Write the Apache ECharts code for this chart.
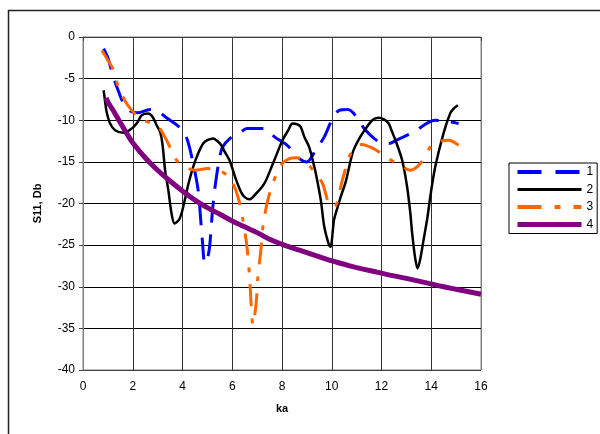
<!DOCTYPE html>
<html>
<head>
<meta charset="utf-8">
<script src="https://cdn.jsdelivr.net/npm/echarts@6/dist/echarts.min.js"></script>
<style>
  html, body { margin: 0; padding: 0; background: #fff; }
  #chart { width: 600px; height: 434px; }
</style>
</head>
<body>
<div id="chart"></div>
<script>
// curve 1 (blue, long dash)
var ka1 = [0.83, 1.0, 1.2, 1.4, 1.6, 1.9, 2.2, 2.7, 3.0, 3.4, 3.7, 4.0, 4.2, 4.4, 4.63, 4.72, 4.8, 4.9, 5.05, 5.14, 5.2, 5.3, 5.45, 5.6, 5.9, 6.3, 6.6, 7.3, 7.7, 8.2, 8.7, 9.0, 9.35, 9.7, 10.0, 10.3, 10.65, 11.1, 11.3, 11.75, 12.1, 12.3, 12.6, 13.3, 14.15, 14.8, 15.1]
var s11_1 = [-1.4, -2.5, -4.6, -6.3, -7.8, -8.9, -9.1, -8.7, -8.9, -9.8, -10.4, -11.2, -12.4, -14.8, -18.4, -21.5, -24.5, -27.2, -26.0, -23.5, -21.0, -18.2, -15.2, -13.3, -12.2, -11.5, -11.0, -11.0, -12.0, -13.0, -14.6, -15.0, -13.6, -12.0, -10.0, -8.8, -8.7, -10.0, -11.0, -12.3, -12.8, -12.8, -12.4, -11.4, -10.0, -10.2, -10.4]

// curve 2 (black, solid)
var ka2 = [0.83, 0.89, 0.95, 1.09, 1.29, 1.62, 1.96, 2.2, 2.36, 2.62, 2.8, 2.96, 3.1, 3.2, 3.3, 3.43, 3.56, 3.68, 3.85, 3.96, 4.09, 4.25, 4.43, 4.6, 4.83, 5.0, 5.23, 5.4, 5.56, 5.7, 5.89, 6.16, 6.35, 6.49, 6.69, 6.96, 7.2, 7.36, 7.5, 7.69, 8.02, 8.25, 8.42, 8.62, 8.75, 8.9, 9.09, 9.25, 9.36, 9.56, 9.7, 9.89, 9.95, 10.09, 10.2, 10.36, 10.56, 10.83, 11.0, 11.23, 11.63, 11.89, 12.1, 12.29, 12.4, 12.56, 12.83, 13.03, 13.16, 13.23, 13.35, 13.45, 13.55, 13.69, 13.85, 13.96, 14.16, 14.49, 14.76, 14.9, 15.07]
var s11_2 = [-6.4, -7.8, -9.0, -10.4, -11.2, -11.5, -11.0, -10.2, -9.4, -9.2, -9.6, -10.6, -11.4, -13.0, -16.0, -18.4, -21.2, -22.4, -22.0, -21.2, -19.6, -17.5, -15.6, -14.2, -12.8, -12.4, -12.2, -12.5, -13.0, -13.8, -14.8, -17.2, -18.6, -19.2, -19.5, -18.8, -18.0, -17.2, -16.2, -14.8, -12.4, -11.2, -10.4, -10.5, -10.8, -12.0, -13.2, -15.0, -16.4, -19.6, -22.8, -25.0, -25.2, -22.0, -20.8, -19.2, -17.4, -14.0, -12.8, -11.6, -10.0, -9.7, -9.9, -10.4, -11.2, -12.4, -14.8, -18.0, -21.2, -23.5, -26.5, -27.8, -26.8, -24.4, -21.6, -19.2, -15.6, -11.6, -9.2, -8.6, -8.2]

// curve 3 (orange, dash-dot)
var ka3 = [0.76, 0.96, 1.23, 1.42, 1.8, 2.29, 2.6, 2.96, 3.36, 3.76, 4.1, 4.5, 5.0, 5.4, 5.7, 5.96, 6.23, 6.43, 6.6, 6.7, 6.75, 6.83, 6.96, 7.03, 7.15, 7.25, 7.43, 7.63, 7.96, 8.3, 8.6, 9.0, 9.25, 9.63, 9.9, 10.1, 10.25, 10.36, 10.5, 10.7, 10.96, 11.23, 11.6, 12.0, 12.2, 12.7, 13.16, 13.56, 13.96, 14.05, 14.7, 15.1]
var s11_3 = [-1.6, -2.6, -4.0, -6.0, -8.2, -9.8, -10.2, -10.5, -12.4, -14.8, -15.6, -16.0, -15.8, -16.0, -16.4, -17.2, -19.2, -22.0, -25.4, -29.0, -31.6, -34.6, -32.0, -28.8, -25.6, -22.4, -19.6, -17.6, -15.4, -14.6, -14.5, -15.2, -16.0, -17.6, -20.2, -20.4, -19.6, -18.0, -16.4, -14.4, -13.2, -12.9, -13.3, -14.0, -14.5, -15.3, -16.0, -15.2, -13.2, -12.8, -12.4, -13.0]

// curve 4 (purple, thick)
var ka4 = [0.93, 1.0, 1.25, 1.5, 1.76, 2.0, 2.5, 3.0, 3.5, 4.0, 4.5, 5.0, 5.5, 6.0, 6.5, 7.0, 7.5, 8.0, 8.7, 9.0, 9.9, 10.5, 11.0, 11.9, 12.5, 13.0, 13.9, 14.5, 15.0, 15.5, 16.0]
var s11_4 = [-7.3, -7.8, -9.0, -10.3, -11.6, -12.7, -14.5, -16.0, -17.3, -18.5, -19.6, -20.5, -21.3, -22.1, -22.8, -23.5, -24.3, -24.9, -25.6, -25.9, -26.8, -27.3, -27.7, -28.3, -28.7, -29.0, -29.6, -30.0, -30.3, -30.6, -30.9]

var names = ['1', '2', '3', '4']

function pairs(xs, ys) {
  return xs.map(function (x, i) { return [x, ys[i]] })
}

var font = 'Arial, "Liberation Sans", sans-serif'
var chart = echarts.init(document.getElementById('chart'), null, { renderer: 'canvas' })

var option = {
  backgroundColor: '#fff',
  animation: false,
  textStyle: { fontFamily: font, color: '#000' },
  graphic: [{
    type: 'rect',
    shape: { x: 8.5, y: 10.5, width: 700, height: 600 },
    style: { fill: 'none', stroke: '#222', lineWidth: 1.5 },
    silent: true
  }],
  grid: { left: 83, right: 119, top: 37, bottom: 64, show: true, borderColor: '#808080', borderWidth: 1, backgroundColor: 'transparent' },
  legend: {
    orient: 'vertical',
    left: 509,
    top: 163,
    padding: [3, 4, 3, 6],
    itemWidth: 64,
    itemHeight: 14,
    itemGap: 5.5,
    borderColor: '#000',
    borderWidth: 1,
    backgroundColor: '#fff',
    itemStyle: { opacity: 0, borderWidth: 0 },
    textStyle: { fontSize: 12, color: '#000', fontFamily: font },
    data: [
      { name: '1', lineStyle: { width: 4, type: [24, 14] } },
      { name: '2', lineStyle: { width: 3 } },
      { name: '3', lineStyle: { width: 4, type: [24, 13, 6, 13] } },
      { name: '4', lineStyle: { width: 5 } }
    ]
  },
  xAxis: {
    type: 'value',
    min: 0,
    max: 16,
    interval: 2,
    name: 'ka',
    nameLocation: 'middle',
    nameGap: 33,
    nameTextStyle: { fontWeight: 'bold', fontSize: 11, color: '#000', fontFamily: font },
    axisLine: { show: true, lineStyle: { color: '#404040' } },
    axisTick: { show: true, length: 4, lineStyle: { color: '#404040' } },
    axisLabel: { margin: 11, fontSize: 12, color: '#000', fontFamily: font },
    splitLine: { show: true, lineStyle: { color: ['#808080', '#333', '#333', '#333', '#333', '#333', '#333', '#333', '#808080'], width: 1 } }
  },
  yAxis: {
    type: 'value',
    min: -40,
    max: 0,
    interval: 5,
    name: 'S11, Db',
    nameLocation: 'middle',
    nameGap: 40,
    nameRotate: 90,
    nameTextStyle: { fontWeight: 'bold', fontSize: 11, color: '#000', fontFamily: font },
    axisLine: { show: true, lineStyle: { color: '#808080' } },
    axisTick: { show: true, length: 4, lineStyle: { color: '#404040' } },
    axisLabel: { margin: 8, fontSize: 12, color: '#000', fontFamily: font },
    splitLine: { show: true, lineStyle: { color: ['#404040', '#000', '#000', '#000', '#000', '#000', '#000', '#000', '#808080'], width: 1 } }
  },
  series: [
    {
      name: names[0], type: 'line', symbol: 'none', smooth: 0.3,
      data: pairs(ka1, s11_1),
      color: '#0000ff',
      lineStyle: { color: '#0000ff', width: 3, type: [22, 12] }
    },
    {
      name: names[1], type: 'line', symbol: 'none', smooth: 0.3,
      data: pairs(ka2, s11_2),
      color: '#000000',
      lineStyle: { color: '#000000', width: 2.5 }
    },
    {
      name: names[2], type: 'line', symbol: 'none', smooth: 0.3,
      data: pairs(ka3, s11_3),
      color: '#ff6600',
      lineStyle: { color: '#ff6600', width: 3, type: [22, 12, 5, 12] }
    },
    {
      name: names[3], type: 'line', symbol: 'none', smooth: 0.4,
      data: pairs(ka4, s11_4),
      color: '#800080',
      lineStyle: { color: '#800080', width: 5 }
    }
  ]
}

chart.setOption(option)
</script>
</body>
</html>
